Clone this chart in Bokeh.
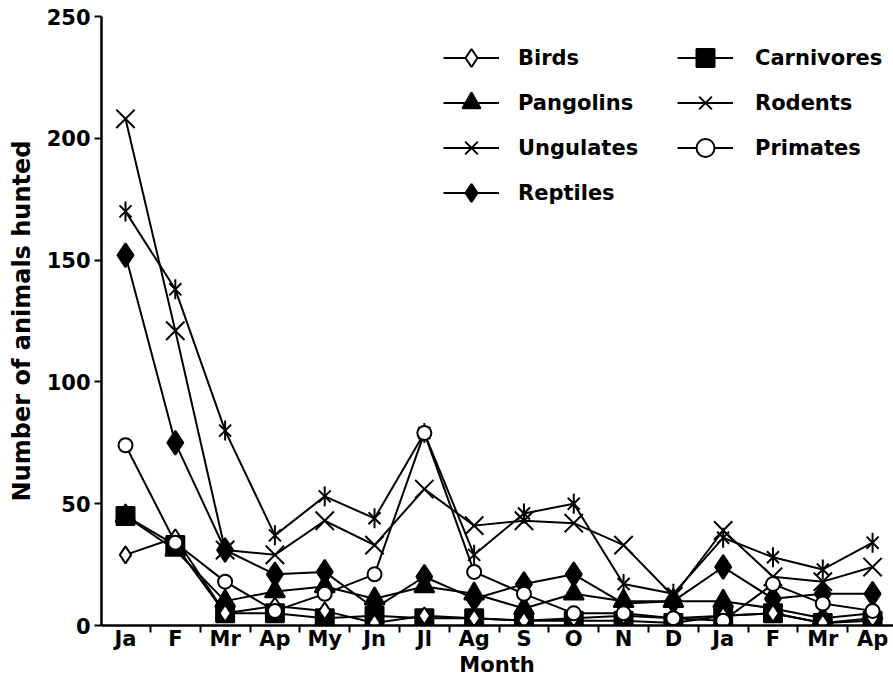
import math
from bokeh.plotting import figure
from bokeh.layouts import column
from bokeh.models import Legend, LegendItem, FixedTicker, Range1d, Div
from bokeh.embed import file_html
from bokeh.resources import INLINE

months = ["Ja", "F", "Mr", "Ap", "My", "Jn", "Jl", "Ag", "S", "O", "N", "D", "Ja", "F", "Mr", "Ap"]

birds      = [29, 36, 5, 8, 6, 1, 4, 3, 2, 3, 4, 3, 4, 5, 1, 3]
pangolins  = [45, 31, 10, 14, 16, 11, 16, 13, 7, 13, 10, 10, 10, 7, 3, 5]
ungulates  = [170, 138, 80, 37, 53, 44, 79, 29, 46, 50, 17, 13, 36, 28, 23, 34]
reptiles   = [152, 75, 31, 21, 22, 7, 20, 11, 17, 21, 9, 10, 24, 11, 13, 13]
carnivores = [45, 33, 5, 5, 3, 4, 3, 3, 2, 2, 2, 1, 4, 5, 1, 2]
rodents    = [208, 121, 31, 29, 43, 33, 56, 41, 43, 42, 33, 12, 39, 20, 18, 24]
primates   = [74, 34, 18, 6, 13, 21, 79, 22, 13, 5, 5, 3, 2, 17, 9, 6]

y_ticks = [0, 50, 100, 150, 200, 250]

FONT = "DejaVu Sans"
x = list(range(len(months)))

p = figure(width=893, height=655, output_backend="svg", toolbar_location=None,
           x_range=Range1d(-0.482, 15.42), y_range=Range1d(0, 250),
           min_border_left=101, min_border_right=0, min_border_top=16, min_border_bottom=30,
           background_fill_color="white", border_fill_color="white")
p.outline_line_color = None
p.grid.grid_line_color = None

# x axis
xa = p.xaxis[0]
xa.ticker = FixedTicker(ticks=x, minor_ticks=[i + 0.5 for i in range(-1, 16)])
xa.major_label_overrides = {i: m for i, m in enumerate(months)}
xa.major_tick_out = 0
xa.major_tick_in = 0
xa.minor_tick_out = 7
xa.minor_tick_in = 0
xa.minor_tick_line_width = 2
xa.axis_line_width = 2.5
xa.major_label_standoff = -6
xa.major_label_text_font = FONT
xa.major_label_text_font_style = "bold"
xa.major_label_text_font_size = "21px"
xa.major_label_text_color = "black"

# y axis
ya = p.yaxis[0]
ya.ticker = FixedTicker(ticks=y_ticks, minor_ticks=[])
ya.major_tick_out = 7
ya.major_tick_in = 0
ya.major_tick_line_width = 2
ya.axis_line_width = 2.5
ya.major_label_standoff = 4
ya.major_label_text_font = FONT
ya.major_label_text_font_style = "bold"
ya.major_label_text_font_size = "21px"
ya.major_label_text_color = "black"
ya.axis_label = "Number of animals hunted"
ya.axis_label_text_font = FONT
ya.axis_label_text_font_style = "bold"
ya.axis_label_text_font_size = "24px"
ya.axis_label_standoff = 8
ya.axis_label_text_color = "black"

series = [
    ("Birds", birds, "diamond", "white", 17),
    ("Pangolins", pangolins, "triangle", "black", 20),
    ("Ungulates", ungulates, "x", "black", 17),
    ("Reptiles", reptiles, "diamond", "black", 24),
    ("Carnivores", carnivores, "square", "black", 18),
    ("Rodents", rodents, "x", "black", 26),
    ("Primates", primates, "circle", "white", 14),
]

lines = {}
for name, vals, mk, fill, size in series:
    lines[name] = p.line(x, vals, line_color="black", line_width=2)

marks = {}
order = ["Rodents", "Ungulates", "Reptiles", "Pangolins", "Carnivores", "Birds", "Primates"]
info = {s[0]: s for s in series}
for name in order:
    _, vals, mk, fill, size = info[name]
    r = p.scatter(x, vals, marker=mk, size=size, fill_color=fill,
                  line_color="black", line_width=2)
    marks[name] = [r]
    if name == "Ungulates":
        # vertical bar turns the cross into a six-armed asterisk
        r2 = p.scatter(x, vals, marker="dash", angle=math.pi / 2, size=20,
                       line_color="black", line_width=2)
        marks[name].append(r2)

def make_legend(names, loc, standoff):
    items = [LegendItem(label=n, renderers=[lines[n]] + marks[n]) for n in names]
    leg = Legend(items=items, location=loc, border_line_color=None,
                 background_fill_alpha=0, padding=0, margin=0, spacing=0,
                 glyph_width=56, glyph_height=45, label_height=45, label_standoff=standoff,
                 label_text_font=FONT, label_text_font_style="bold",
                 label_text_font_size="21px", label_text_color="black")
    return leg

p.add_layout(make_legend(["Birds", "Pangolins", "Ungulates", "Reptiles"], (342, 410), 19))
p.add_layout(make_legend(["Carnivores", "Rodents", "Primates"], (576, 455), 22))

month_label = Div(text="Month", width=792, height=24, margin=(0, 0, 0, 101),
                  styles={"font-family": FONT, "font-weight": "bold", "font-size": "21px",
                          "line-height": "20px", "text-align": "center", "color": "black",
                          "overflow": "visible"})

layout = column(p, month_label, spacing=0)

open("out.html", "w").write(file_html(layout, INLINE))
